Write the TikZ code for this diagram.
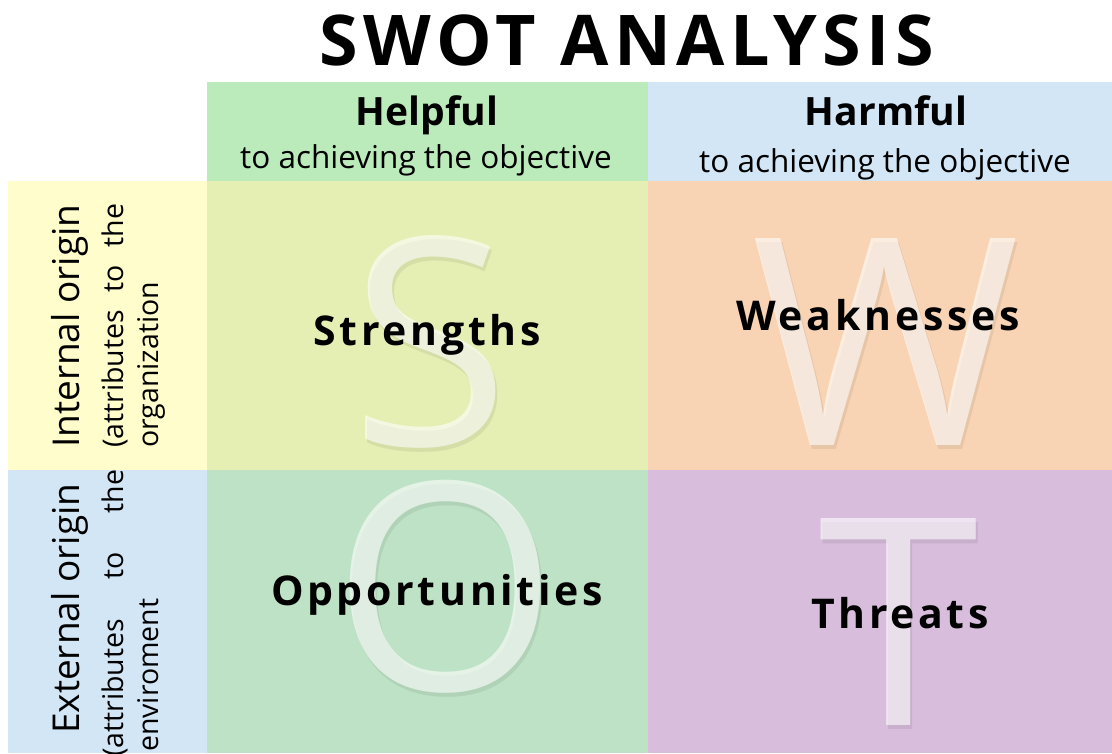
\documentclass[tikz,border=0pt]{standalone}
\usepackage{fontspec}
\setmainfont{Open Sans}
\definecolor{hdrGreen}{HTML}{BBEBBB}
\definecolor{hdrBlue}{HTML}{D2E6F5}
\definecolor{intYellow}{HTML}{FFFDCC}
\definecolor{extBlue}{HTML}{D2E6F5}
\definecolor{strCol}{HTML}{E5EFB3}
\definecolor{weakCol}{HTML}{F9D4B4}
\definecolor{oppCol}{HTML}{BEE2C5}
\definecolor{thrCol}{HTML}{D8BDDC}
\tikzset{
  bigletter/.style={text=white, text opacity=0.6, font=\fontsize{290}{290}\selectfont, inner sep=0pt, anchor=base},
  bigshadow/.style={text=black, text opacity=0.07, font=\fontsize{290}{290}\selectfont, inner sep=0pt, anchor=base},
  celltitle/.style={font=\bfseries\fontsize{41}{41}\selectfont\addfontfeatures{LetterSpace=9}, inner sep=0pt, anchor=base},
  hdrtitle/.style={font=\bfseries\fontsize{39}{39}\selectfont, inner sep=0pt, anchor=base},
  hdrsub/.style={font=\fontsize{31.5}{31.5}\selectfont, inner sep=0pt, anchor=base},
  sidebig/.style={font=\fontsize{37}{37}\selectfont, inner sep=0pt, rotate=90, anchor=base west},
  sidesmall/.style={font=\fontsize{28.5}{28.5}\selectfont, inner sep=0pt, rotate=90, anchor=base west},
}
\begin{document}
\begin{tikzpicture}[x=1pt,y=-1pt]
\clip (0,0) rectangle (1112,753);
\fill[white] (0,0) rectangle (1112,753);
% header cells
\fill[hdrGreen] (207,82) rectangle (648,181);
\fill[hdrBlue] (648,82) rectangle (1112,181);
% side cells
\fill[intYellow] (8,181) rectangle (207,470);
\fill[extBlue] (8,470) rectangle (207,753);
% quadrants
\fill[strCol] (207,181) rectangle (648,470);
\fill[weakCol] (648,181) rectangle (1112,470);
\fill[oppCol] (207,470) rectangle (648,753);
\fill[thrCol] (648,470) rectangle (1112,753);

% title
\node[font=\bfseries\fontsize{70}{70}\selectfont\addfontfeatures{LetterSpace=8}, inner sep=0pt, anchor=base] (title) at (627,65) {SWOT ANALYSIS};

% headers
\node[hdrtitle] (helpful) at (427,125) {Helpful};
\node[hdrsub] (helpfulsub) at (426,168) {to achieving the objective};
\node[hdrtitle] (harmful) at (886,125) {Harmful};
\node[hdrsub] (harmfulsub) at (885,172) {to achieving the objective};

% big letters
\node[bigshadow] (Sshadow) at (432,449) {S};
\node[bigletter] (S) at (430,445) {S};
\node[bigshadow] (Wshadow) at (888,449) {W};
\node[bigletter] (W) at (886,445) {W};
\node[bigshadow] (Oshadow) at (447,694) {O};
\node[bigletter] (O) at (445,690) {O};
\node[bigshadow] (Tshadow) at (901,729) {T};
\node[bigletter] (T) at (899,725) {T};

% quadrant titles
\node[celltitle] (strengths) at (427,345) {Strengths};
\node[celltitle] (weaknesses) at (878,330) {Weaknesses};
\node[celltitle] (opportunities) at (437,605) {Opportunities};
\node[celltitle] (threats) at (900,628) {Threats};

% side labels
\node[sidebig] (internal) at (79,448) {Internal origin};
\node[sidesmall] (intattr) at (123,448) {\makebox[244pt][s]{(attributes to the}};
\node[sidesmall] (intorg) at (158,448) {organization};
\node[sidebig] (external) at (79,734) {External origin};
\node[sidesmall] (extattr) at (123,757) {\makebox[287pt][s]{(attributes to the}};
\node[sidesmall] (extenv) at (158,752) {enviroment};
\end{tikzpicture}
\end{document}
